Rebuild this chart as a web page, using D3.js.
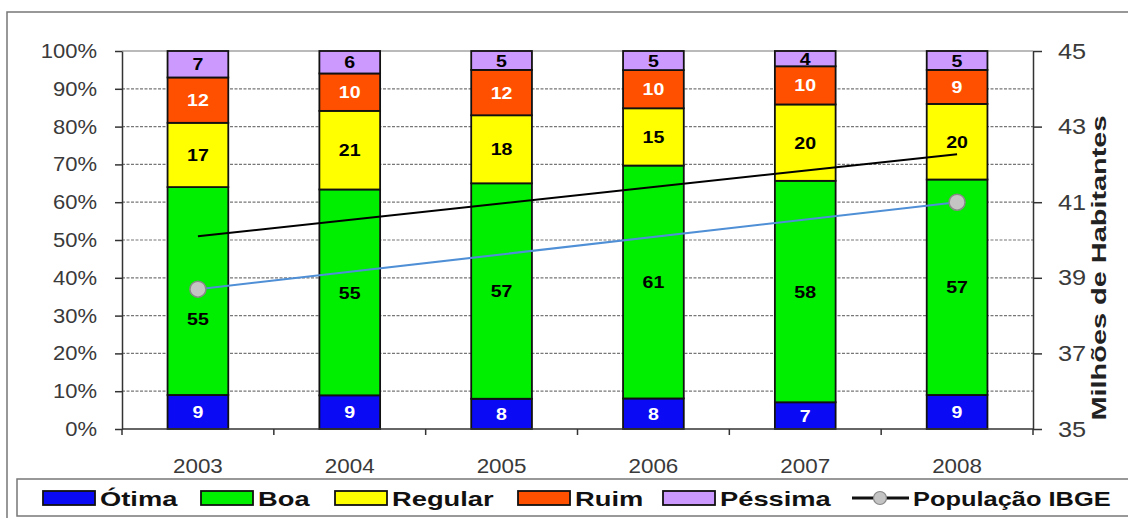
<!DOCTYPE html>
<html>
<head>
<meta charset="utf-8">
<script src="https://cdn.jsdelivr.net/npm/d3@7"></script>
<style>
  html, body { margin: 0; padding: 0; background: #fff; }
  svg { display: block; font-family: "Liberation Sans", Arial, sans-serif; }
</style>
</head>
<body>
<svg id="chart" width="1128" height="518"></svg>
<script>
// chart data
const years = ['2003', '2004', '2005', '2006', '2007', '2008'];
const categories = ['Ótima', 'Boa', 'Regular', 'Ruim', 'Péssima'];
const otima = [9, 9, 8, 8, 7, 9];
const boa = [55, 55, 57, 61, 58, 57];
const regular = [17, 21, 18, 15, 20, 20];
const ruim = [12, 10, 12, 10, 10, 9];
const pessima = [7, 6, 5, 5, 4, 5];

// População IBGE (milhões), only two points known
const popYears = ['2003', '2008'];
const popValues = [38.7, 41.0];

// black trend line, in percent of the left axis
const trendYears = ['2003', '2008'];
const trendValues = [51, 72.7];

const leftTicks = [0, 10, 20, 30, 40, 50, 60, 70, 80, 90, 100];
const rightTicks = [35, 37, 39, 41, 43, 45];

const colors = ['#0a0af5', '#00ee00', '#ffff00', '#ff5000', '#cc99ff'];
const labelColors = ['#fff', '#000', '#000', '#fff', '#000'];

const svg = d3.select('#chart');
const margin = { top: 51, right: 95, bottom: 89, left: 122 };
const width = 1128 - margin.left - margin.right;
const height = 518 - margin.top - margin.bottom;

// stretch text horizontally, the original picture is a bit wider than tall
function stretch(sel, k) {
  sel.each(function() {
    const w = this.getComputedTextLength();
    d3.select(this).attr('textLength', w * k).attr('lengthAdjust', 'spacingAndGlyphs');
  });
}

// outer frame
svg.append('rect')
  .attr('x', 7).attr('y', 12)
  .attr('width', 1140).attr('height', 520)
  .attr('fill', 'none')
  .attr('stroke', '#777')
  .attr('stroke-width', 1.5);

const g = svg.append('g').attr('transform', `translate(${margin.left},${margin.top})`);

const x = d3.scaleBand().domain(years).range([0, width]).paddingInner(0.6).paddingOuter(0.3);
const y = d3.scaleLinear().domain([0, 1]).range([height, 0]);
const yRight = d3.scaleLinear().domain([35, 45]).range([height, 0]);

// gridlines
g.append('g')
  .selectAll('line')
  .data(leftTicks.filter(t => t > 0))
  .join('line')
  .attr('x1', 0).attr('x2', width)
  .attr('y1', d => y(d / 100)).attr('y2', d => y(d / 100))
  .attr('stroke', '#777')
  .attr('stroke-width', 1.2)
  .attr('stroke-dasharray', d => d === 100 ? null : '3,1.5');

// stacked bars, each year normalised to 100%
const table = years.map((yr, i) => ({
  year: yr,
  'Ótima': otima[i], 'Boa': boa[i], 'Regular': regular[i], 'Ruim': ruim[i], 'Péssima': pessima[i]
}));
const series = d3.stack().keys(categories).offset(d3.stackOffsetExpand)(table);

const layers = g.append('g')
  .selectAll('g')
  .data(series)
  .join('g')
  .attr('fill', (d, i) => colors[i]);

layers.selectAll('rect')
  .data(d => d)
  .join('rect')
  .attr('x', d => x(d.data.year))
  .attr('y', d => y(d[1]))
  .attr('width', x.bandwidth())
  .attr('height', d => y(d[0]) - y(d[1]))
  .attr('stroke', '#111')
  .attr('stroke-width', 1.8);

// population line positions, used also to keep labels clear of markers
const popPoints = popYears.map((yr, i) => ({ x: x(yr) + x.bandwidth() / 2, y: yRight(popValues[i]) }));

series.forEach((s, si) => {
  const lbl = g.append('g')
    .selectAll('text')
    .data(s)
    .join('text')
    .attr('x', d => x(d.data.year) + x.bandwidth() / 2)
    .attr('y', d => {
      let cy = (y(d[0]) + y(d[1])) / 2;
      const hit = popPoints.find(p => Math.abs(p.x - (x(d.data.year) + x.bandwidth() / 2)) < 1 && Math.abs(p.y - cy) < 16);
      if (hit) cy = hit.y + 30;
      return cy;
    })
    .attr('dy', '0.36em')
    .attr('text-anchor', 'middle')
    .attr('font-size', 17)
    .attr('font-weight', 'bold')
    .attr('fill', labelColors[si])
    .text(d => d.data[s.key]);
  stretch(lbl, 1.15);
});

// left axis
const leftAxis = g.append('g')
  .call(d3.axisLeft(y).tickValues(leftTicks.map(t => t / 100)).tickFormat(d => Math.round(d * 100) + '%').tickSize(7).tickSizeOuter(0));
leftAxis.select('.domain').attr('stroke', '#333').attr('stroke-width', 1.5);
leftAxis.selectAll('.tick line').attr('stroke', '#333').attr('stroke-width', 1.5);
leftAxis.selectAll('.tick text')
  .attr('x', -25)
  .attr('font-size', 20)
  .attr('font-family', '"Liberation Sans", Arial, sans-serif')
  .attr('fill', '#3a3a3a');
stretch(leftAxis.selectAll('.tick text'), 1.1);

// right axis
const rightAxis = g.append('g')
  .attr('transform', `translate(${width},0)`)
  .call(d3.axisRight(yRight).tickValues(rightTicks).tickSize(9).tickSizeOuter(0));
rightAxis.select('.domain').attr('stroke', '#333').attr('stroke-width', 1.5);
rightAxis.selectAll('.tick line').attr('stroke', '#333').attr('stroke-width', 1.5);
rightAxis.selectAll('.tick text')
  .attr('x', 25)
  .attr('font-size', 22)
  .attr('font-family', '"Liberation Sans", Arial, sans-serif')
  .attr('fill', '#3a3a3a');
stretch(rightAxis.selectAll('.tick text'), 1.15);

// x axis with ticks on the band boundaries
const xAxis = g.append('g').attr('transform', `translate(0,${height})`);
xAxis.append('line')
  .attr('x1', 0).attr('x2', width)
  .attr('stroke', '#333').attr('stroke-width', 1.5);
const step = x.step();
xAxis.selectAll('line.sep')
  .data(d3.range(years.length + 1))
  .join('line')
  .attr('class', 'sep')
  .attr('x1', i => i * step)
  .attr('x2', i => i * step)
  .attr('y1', 0).attr('y2', 6)
  .attr('stroke', '#333').attr('stroke-width', 1.5);
const yearText = xAxis.selectAll('text')
  .data(years)
  .join('text')
  .attr('x', d => x(d) + x.bandwidth() / 2)
  .attr('y', 44)
  .attr('text-anchor', 'middle')
  .attr('font-size', 20)
  .attr('fill', '#3a3a3a')
  .text(d => d);
stretch(yearText, 1.12);

// right axis title
const title = svg.append('text')
  .attr('transform', `translate(1106,268) rotate(-90)`)
  .attr('text-anchor', 'middle')
  .attr('font-size', 21)
  .attr('font-weight', 'bold')
  .attr('fill', '#222')
  .text('Milhões de Habitantes');
title.attr('textLength', 305).attr('lengthAdjust', 'spacingAndGlyphs');

// trend line
const trendLine = d3.line()
  .x((d, i) => x(trendYears[i]) + x.bandwidth() / 2)
  .y(d => y(d / 100));
g.append('path')
  .datum(trendValues)
  .attr('d', trendLine)
  .attr('fill', 'none')
  .attr('stroke', '#000')
  .attr('stroke-width', 2);

// population line
const popLine = d3.line()
  .x((d, i) => x(popYears[i]) + x.bandwidth() / 2)
  .y(d => yRight(d));
g.append('path')
  .datum(popValues)
  .attr('d', popLine)
  .attr('fill', 'none')
  .attr('stroke', '#4f8fd6')
  .attr('stroke-width', 2);
g.append('g')
  .selectAll('circle')
  .data(popValues)
  .join('circle')
  .attr('cx', (d, i) => x(popYears[i]) + x.bandwidth() / 2)
  .attr('cy', d => yRight(d))
  .attr('r', 8)
  .attr('fill', '#c4c4c4')
  .attr('stroke', '#888')
  .attr('stroke-width', 1.5);

// legend
const legend = svg.append('g');
legend.append('rect')
  .attr('x', 17).attr('y', 479)
  .attr('width', 1130).attr('height', 37)
  .attr('fill', '#fff')
  .attr('stroke', '#777')
  .attr('stroke-width', 1.5);

const legendX = [43, 201, 335, 518, 663];
categories.forEach((c, i) => {
  const item = legend.append('g').attr('transform', `translate(${legendX[i]},491)`);
  item.append('rect')
    .attr('width', 52).attr('height', 14)
    .attr('fill', colors[i])
    .attr('stroke', '#111')
    .attr('stroke-width', 1.8);
  const t = item.append('text')
    .attr('x', 57).attr('y', 15)
    .attr('font-size', 21)
    .attr('font-weight', 'bold')
    .attr('fill', '#111')
    .text(c);
  stretch(t, 1.3);
});
const popItem = legend.append('g').attr('transform', 'translate(852,498)');
popItem.append('line')
  .attr('x1', 0).attr('x2', 57)
  .attr('stroke', '#111').attr('stroke-width', 3);
popItem.append('circle')
  .attr('cx', 28).attr('r', 6.5)
  .attr('fill', '#c4c4c4').attr('stroke', '#888').attr('stroke-width', 1.2);
const pt = popItem.append('text')
  .attr('x', 61).attr('y', 8)
  .attr('font-size', 21)
  .attr('font-weight', 'bold')
  .attr('fill', '#111')
  .text('População IBGE');
stretch(pt, 1.21);
</script>
</body>
</html>
